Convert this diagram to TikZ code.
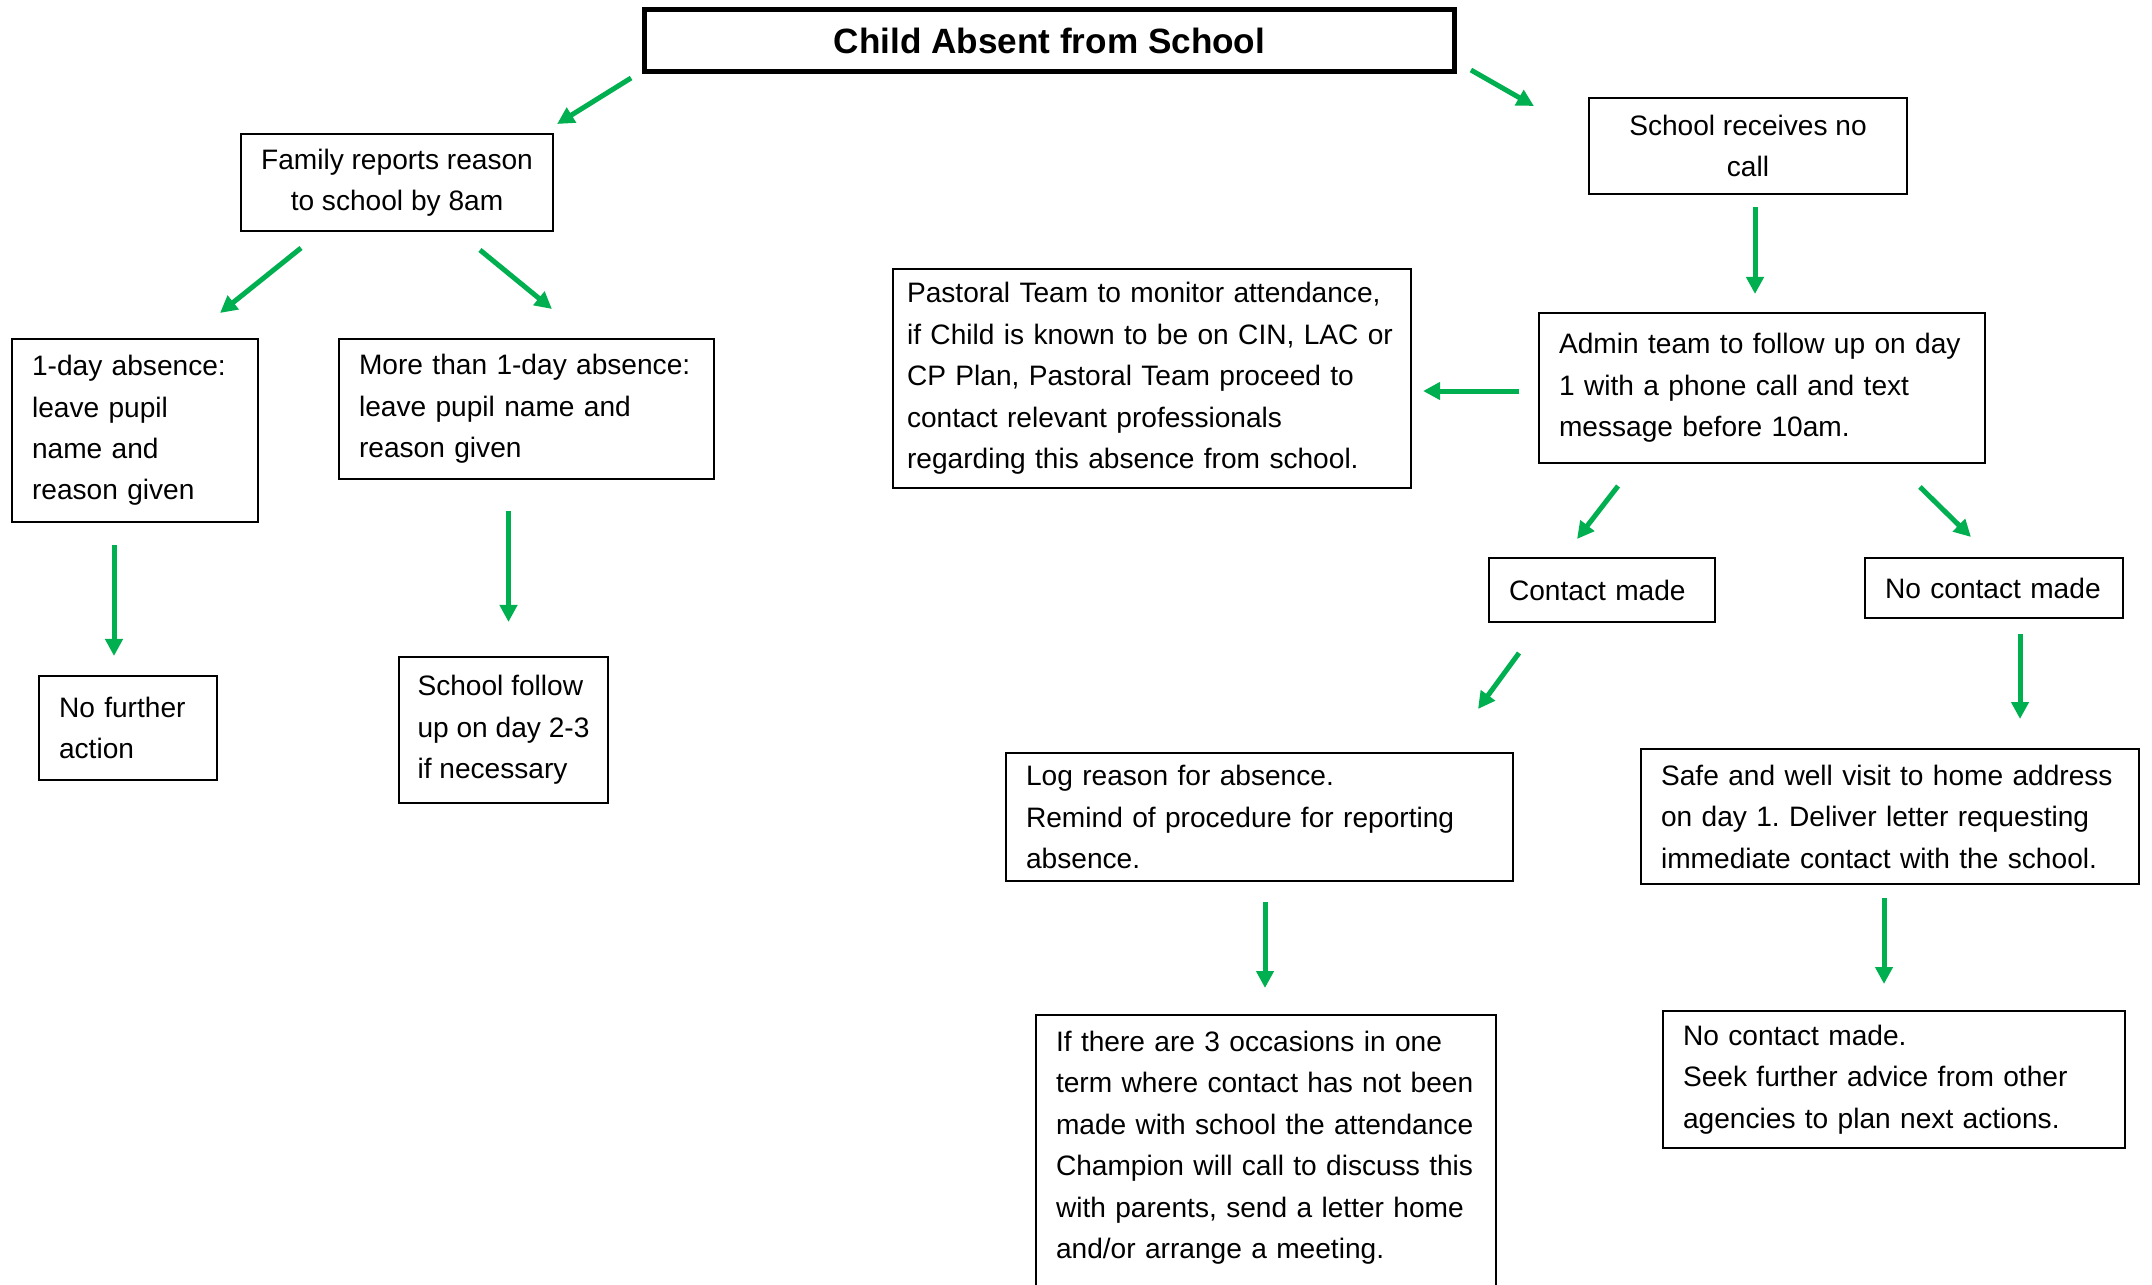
\documentclass[tikz,border=0pt]{standalone}
\usepackage{fontspec}
\setmainfont{Liberation Sans}
\usetikzlibrary{arrows.meta,calc}
\definecolor{flowgreen}{RGB}{0,176,80}
\frenchspacing

\begin{document}
\begin{tikzpicture}[x=0.02cm, y=-0.02cm,
  box/.style={draw, line width=0.04cm, inner xsep=0.2cm, inner ysep=0.1cm, align=left, font=\fontsize{16}{23.6}\selectfont},
  lbox/.style={box, inner xsep=0.4cm, text width=#1},
  arr/.style={flowgreen, line width=0.1cm, -{Triangle[length=0.34cm, width=0.34cm]}}]
\useasboundingbox (0,0) rectangle (2152,1284);

% title
\node[draw, line width=0.1cm, minimum width=16.2cm, minimum height=1.24cm, font=\fontsize{20}{24}\selectfont\bfseries] (title) at (1049.5,40.5) {Child Absent from School};

% family calls in
\node[box, align=center, minimum width=6.24cm, minimum height=1.94cm] (family) at (397,182.5) {Family reports reason\\to school by 8am};
\node[lbox=4.12cm, minimum height=3.66cm] (oneday) at (135,430.5) {1-day absence:\\leave pupil\\name and\\reason given};
\node[lbox=6.70cm, minimum height=2.80cm] (moreday) at (526.5,409) {More than 1-day absence:\\leave pupil name and\\reason given};
\node[lbox=2.76cm, minimum height=2.08cm] (noaction) at (128,728) {No further\\action};
\node[box, minimum width=4.18cm, minimum height=2.92cm] (followup) at (503.5,730) {School follow\\up on day 2-3\\if necessary};

% no call received
\node[box, align=center, minimum width=6.36cm, minimum height=1.92cm] (nocall) at (1748,146) {School receives no\\call};
\node[lbox=8.12cm, minimum height=3.00cm] (admin) at (1762,388) {Admin team to follow up on day\\1 with a phone call and text\\message before 10am.};
\node[lbox=9.80cm, inner xsep=0.28cm, minimum height=4.38cm] (pastoral) at (1152,378.5) {Pastoral Team to monitor attendance,\\if Child is known to be on CIN, LAC or\\CP Plan, Pastoral Team proceed to\\contact relevant professionals\\regarding this absence from school.};
\node[lbox=3.72cm, minimum height=1.28cm] (contact) at (1602,590) {Contact made};
\node[lbox=4.36cm, minimum height=1.20cm] (nocontact) at (1994,588) {No contact made};
\node[lbox=9.34cm, minimum height=2.56cm] (logreason) at (1259.5,817) {Log reason for absence.\\Remind of procedure for reporting\\absence.};
\node[lbox=9.16cm, minimum height=2.70cm] (safewell) at (1890,816.5) {Safe and well visit to home address\\on day 1. Deliver letter requesting\\immediate contact with the school.};
\node[lbox=8.40cm, anchor=north west, inner ysep=0.32cm, text depth=6cm] (occasions) at (1035,1014) {If there are 3 occasions in one\\term where contact has not been\\made with school the attendance\\Champion will call to discuss this\\with parents, send a letter home\\and/or arrange a meeting.};
\node[lbox=8.44cm, minimum height=2.74cm] (advice) at (1894,1079.5) {No contact made.\\Seek further advice from other\\agencies to plan next actions.};

% arrows
\draw[arr] ($(title.south west)+(-11,4)$) -- ++(-74,46);
\draw[arr] ($(title.south east)+(14,-4)$) -- ++(63,36);
\draw[arr] ($(family.south west)+(61,16)$) -- ++(-81,65);
\draw[arr] ($(family.south east)+(-74,18)$) -- ++(72,59);
\draw[arr] ($(oneday.south)+(-21,22)$) -- ++(0,111);
\draw[arr] ($(moreday.south)+(-18,31)$) -- ++(0,111);
\draw[arr] ($(nocall.south)+(7,12)$) -- ++(0,87);
\draw[arr] ($(admin.west)+(-19,3)$) -- ++(-96,0);
\draw[arr] ($(admin.south west)+(80,22)$) -- ++(-41,53);
\draw[arr] ($(admin.south east)+(-66,23)$) -- ++(51,50);
\draw[arr] ($(contact.south west)+(31,30)$) -- ++(-41,56);
\draw[arr] ($(nocontact.south)+(26,15)$) -- ++(0,85);
\draw[arr] ($(logreason.south)+(5.5,20)$) -- ++(0,86);
\draw[arr] ($(safewell.south)+(-6,13)$) -- ++(0,86);
\end{tikzpicture}
\end{document}
